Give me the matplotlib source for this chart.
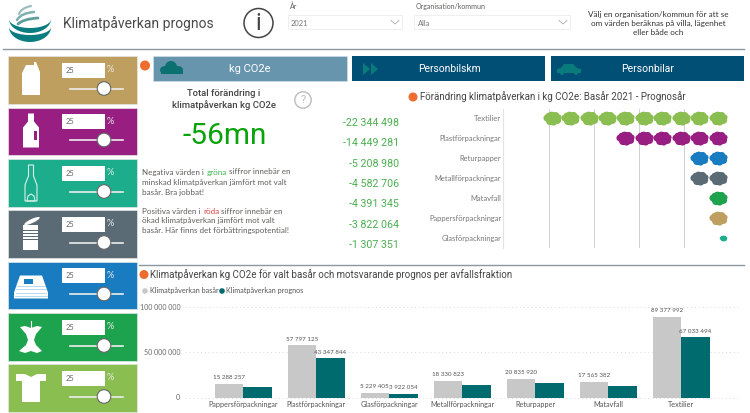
import numpy as np
import matplotlib
matplotlib.use("Agg")
import matplotlib.pyplot as plt
from matplotlib.patches import Rectangle, Circle, Polygon, Ellipse, PathPatch
from matplotlib.path import Path
from matplotlib.ticker import FuncFormatter

# bottom chart
fractions = ["Pappersförpackningar", "Plastförpackningar", "Glasförpackningar",
             "Metallförpackningar", "Returpapper", "Matavfall", "Textilier"]
base_values = [15288257, 57797125, 5229405, 18330823, 20835920, 17565382, 89377992]
forecast_values = [11466000, 43347844, 3922054, 13748000, 15627000, 13174000, 67033494]
forecast_labels = [None, "43 347 844", "3 922 054", None, None, None, "67 033 494"]
base_name = "Klimatpåverkan basår"
forecast_name = "Klimatpåverkan prognos"

# cloud chart
cloud_fractions = ["Textilier", "Plastförpackningar", "Returpapper", "Metallförpackningar",
                   "Matavfall", "Pappersförpackningar", "Glasförpackningar"]
cloud_counts = [10, 6, 2, 2, 1, 1, 1]
cloud_colors = ["#8BBE50", "#981E82", "#1A7CC0", "#5B6B75", "#1DA34E", "#BF9F5F", "#1CAE8C"]
change_labels = ["-22 344 498", "-14 449 281", "-5 208 980", "-4 582 706",
                 "-4 391 345", "-3 822 064", "-1 307 351"]

# sliders on the left
tile_colors = ["#BF9F5F", "#981E82", "#1CAE8C", "#5B6B75", "#1A7CC0", "#1DA34E", "#8BBE50"]
tile_tops = [56, 107.5, 159, 210, 261.5, 313, 364]
tile_icons = ["carton", "bottle", "wine", "can", "paper", "apple", "shirt"]

W, H = 750, 413
DARK = "#024F75"
TEAL = "#006B6E"
ORANGE = "#EE6C2E"
GREY = "#605E5C"
DIN = "Roboto"
BODY = "Lato"

fig = plt.figure(figsize=(W / 100, H / 100), dpi=100, facecolor="white")
ui = fig.add_axes([0, 0, 1, 1], zorder=0)
ui.set_xlim(0, W)
ui.set_ylim(H, 0)
ui.axis("off")


def px_axes(left, top, right, bottom):
    # axes placed by pixel box, y counted from the top
    ax = fig.add_axes([left / W, 1 - bottom / H, (right - left) / W, (bottom - top) / H], zorder=1)
    ax.patch.set_alpha(0)
    return ax


def box(x0, y0, x1, y1, color, ec="none", lw=0, z=1):
    ui.add_patch(Rectangle((x0, y0), x1 - x0, y1 - y0, fc=color, ec=ec, lw=lw, zorder=z))


def dot(x, y, r, color, ec="none", lw=0, z=3):
    ui.add_patch(Ellipse((x, y), 2 * r, 2 * r, fc=color, ec=ec, lw=lw, zorder=z))


def poly(points, x, y, s=1.0, color="white", fill=True, lw=0.8, z=3):
    pts = [(x + a * s, y + b * s) for a, b in points]
    ui.add_patch(Polygon(pts, closed=True, fc=color if fill else "none",
                         ec=color if not fill else "none", lw=lw, zorder=z))


def label(x, y, s, size, color=GREY, family=BODY, ha="left", weight="normal"):
    return ui.text(x, y, s, fontsize=size, color=color, family=family, ha=ha, va="center",
                   fontweight=weight, zorder=5)


def mixed_line(x, y, parts, size):
    # several colours on one line, each piece starts where the last one stopped
    rend = fig.canvas.get_renderer()
    for s, color in parts:
        t = label(x, y, s, size, color=color)
        x += t.get_window_extent(rend).width


def cloud_path():
    # a lumpy blob made of overlapping circles
    spots = [(-0.62, 0.05, 0.38), (-0.3, -0.32, 0.4), (0.12, -0.36, 0.42), (0.55, -0.2, 0.4),
             (0.68, 0.12, 0.32), (0.35, 0.32, 0.4), (-0.1, 0.36, 0.4), (-0.42, 0.3, 0.34),
             (0, 0, 0.55)]
    verts, codes = [], []
    for cx, cy, r in spots:
        c = Path.circle((cx, cy), r)
        verts.extend(c.vertices)
        codes.extend(c.codes)
    return Path(verts, codes)


CLOUD = cloud_path()


def draw_icon(kind, x, y):
    if kind == "carton":
        poly([(-9, -7), (-5, -15), (3, -15), (3, -18), (-4, -18), (5, -18), (9, -8), (9, 15), (-9, 15)], x, y)
    elif kind == "bottle":
        poly([(-3, -18), (3, -18), (3, -10), (8, -4), (8, 16), (-8, 16), (-8, -4), (-3, -10)], x, y)
        box(x + 3, y - 1, x + 5.5, y + 8, tile_colors[1], z=4)
    elif kind == "wine":
        poly([(-2.5, -18), (2.5, -18), (2.5, -7), (6, 2), (6, 18), (-6, 18), (-6, 2), (-2.5, -7)], x, y,
             color="#D8F2EA", fill=False)
        poly([(-4, 18), (-3, 13), (0, 11), (3, 13), (4, 18)], x, y, color="#D8F2EA", fill=False)
    elif kind == "can":
        for a, b in [(-9, -4), (-3, -1), (0, 2), (3, 5), (6, 16)]:
            box(x - 8, y + a, x + 7, y + b, "white", z=3)
        ui.add_patch(Ellipse((x + 1, y - 13), 17, 4, angle=-25, fc="white", ec="none", zorder=3))
    elif kind == "paper":
        poly([(-11, -10), (11, -10), (17, 7), (17, 13), (-17, 13), (-17, 7)], x, y)
        box(x - 7, y - 7, x + 2, y - 2, "#1A7CC0", z=4)
        for k in [0, 3.5, 7, 10]:
            ui.plot([x - 14 - k * 0.2, x + 14 + k * 0.2], [y + k, y + k], color="#9CC9E8", lw=0.5, zorder=4)
    elif kind == "apple":
        poly([(-11, -10), (-6, -11), (0, -9), (6, -11), (11, -10), (5, -3), (3, 3), (5, 8), (11, 14), (6, 16),
              (0, 14), (-6, 16), (-12, 14), (-5, 8), (-3, 3), (-5, -3)], x, y)
        ui.plot([x, x], [y - 16, y - 9], color="white", lw=0.8, zorder=3)
    elif kind == "shirt":
        poly([(-15, -14), (-6, -14), (0, -11), (6, -14), (15, -14), (15, -7), (9, -7), (9, 14), (-9, 14),
              (-9, -7), (-15, -7)], x, y)


# header
def crescent(cx, cy, rx, ry, thick, a0, a1, color):
    t = np.radians(np.linspace(a0, a1, 40))
    outer = np.c_[cx + rx * np.cos(t), cy + ry * np.sin(t)]
    inner = np.c_[cx + rx * np.cos(t[::-1]), cy + (ry - thick) * np.sin(t[::-1])]
    ui.add_patch(Polygon(np.r_[outer, inner], closed=True, fc=color, ec="none", zorder=3))


def swoosh(p0, p1, p2, lw, color):
    ui.add_patch(PathPatch(Path([p0, p1, p2], [Path.MOVETO, Path.CURVE3, Path.CURVE3]),
                           fc="none", ec=color, lw=lw, capstyle="round", zorder=3))


crescent(30, 19, 21, 14, 5, 0, 180, "#0B7C80")
crescent(30, 27, 21, 15, 7, 0, 180, "#0B7C80")
swoosh((19, 14), (21, 8), (31, 6), 1.6, "#9DBFC0")
swoosh((17, 20), (21, 13), (34, 12), 1.8, "#7FAFB0")
swoosh((18, 24), (23, 19), (38, 18), 2.0, "#5E9C9E")

label(63, 24, "Klimatpåverkan prognos", 10, color="#4A4A4A", family=DIN)
ui.add_patch(Circle((258.5, 23), 14.5, fc="none", ec="#444444", lw=1.1, zorder=3))
label(258.5, 23.5, "i", 17, color="#444444", family=DIN, ha="center")

label(289.5, 6.5, "År", 5.0)
box(288, 14.5, 402, 29, "white", ec="#EDEDED", lw=0.6)
label(291, 24, "2021", 5.4, color="#777777")
ui.plot([391, 395, 399], [20.5, 24, 20.5], color="#AAAAAA", lw=0.6, zorder=3)
label(416, 6.5, "Organisation/kommun", 5.0)
box(414, 14.5, 570, 29, "white", ec="#EDEDED", lw=0.6)
label(418, 23, "Alla", 5.4, color="#777777")
ui.plot([559, 563, 567], [20.5, 24, 20.5], color="#AAAAAA", lw=0.6, zorder=3)
for yy, line in zip([14, 23.5, 32.5], ["Välj en organisation/kommun för att se",
                                       "om värden beräknas på villa, lägenhet",
                                       "eller både och"]):
    label(658.5, yy, line, 5.9, color="#333333", ha="center")
ui.plot([3, 744], [48.5, 48.5], color="#8A97A3", lw=1, zorder=2)

# left column
for top, color, icon in zip(tile_tops, tile_colors, tile_icons):
    box(7.5, top, 137, top + 47.5, color, ec="#E6E6E6", lw=0.5)
    draw_icon(icon, 31, top + 24)
    box(62, top + 6.5, 105, top + 21.5, "white", z=3)
    label(66, top + 14.5, "25", 5.4, color="#666666")
    label(107, top + 13.5, "%", 6.6, color="#E8E8E8")
    ui.plot([70, 123], [top + 32.5, top + 32.5], color="#EDEDED", lw=1.2, zorder=3)
    dot(104, top + 32.5, 6.8, "white", ec="#666666", lw=0.8, z=4)

# buttons
box(153, 56, 346.5, 81, "#6795AE", ec="#D8E2E8", lw=0.4)
box(352, 56, 545, 81, DARK)
box(551, 56, 744, 81, DARK)
label(249.5, 69, "kg CO2e", 8, color="white", family=DIN, ha="center")
label(449, 69, "Personbilskm", 7.4, color="white", family=DIN, ha="center")
label(647.5, 69, "Personbilar", 7.5, color="white", family=DIN, ha="center")
dot(145, 65.5, 5, ORANGE)
for cx, cy, rx, ry in [(165, 70, 5, 4), (171, 67, 6, 6), (178, 70, 5, 4)]:
    ui.add_patch(Ellipse((cx, cy), 2 * rx, 2 * ry, fc="#0A7070", ec="none", zorder=3))
box(161, 70, 183, 74, "#0A7070", z=3)
poly([(0, -6), (7, 0), (0, 6)], 363, 69, color="#0A7B7B")
poly([(0, -6), (7, 0), (0, 6)], 371, 69, color="#0A7B7B")
poly([(-12, 4), (-12, 0), (-8, -1), (-5, -5), (4, -5), (8, -1), (12, 0), (12, 4)], 569, 69, color="#0A7B7B")
dot(562, 73, 2, "#0A7B7B")
dot(576, 73, 2, "#0A7B7B")

# total
label(224, 94, "Total förändring i", 6.8, color="#444444", family=DIN, ha="center", weight="medium")
label(224, 105, "klimatpåverkan kg CO2e", 6.8, color="#444444", family=DIN, ha="center", weight="medium")
ui.add_patch(Circle((303, 100), 8.2, fc="none", ec="#BBBBBB", lw=1, zorder=3))
label(303, 100, "?", 8, color="#BBBBBB", family=DIN, ha="center")
label(224.5, 136, "-56mn", 21.5, color="#0BA30B", family=DIN, ha="center")

GREEN_TXT = "#3DB54A"
RED_TXT = "#E0403C"
mixed_line(142.5, 172, [("Negativa värden i ", GREY), ("gröna", GREEN_TXT), (" siffror innebär en", GREY)], 5.8)
label(142.5, 182, "minskad klimatpåverkan jämfört mot valt", 5.8)
label(142.5, 192, "basår. Bra jobbat!", 5.8)
mixed_line(142.5, 211.5, [("Positiva värden i ", GREY), ("röda", RED_TXT), (" siffror innebär en", GREY)], 5.8)
label(142.5, 221, "ökad klimatpåverkan jämfört mot valt", 5.8)
label(142.5, 231, "basår. Här finns det förbättringspotential!", 5.8)

# change figures next to the cloud chart
row_y = 123
for s in change_labels:
    label(399, row_y, s, 7.7, color="#4CAF50", family=DIN, ha="right")
    row_y += 20.3

# cloud chart
dot(413, 97, 4.5, ORANGE)
label(419.5, 97, "Förändring klimatpåverkan i kg CO2e: Basår 2021 - Prognosår", 7.0,
      color="#444444", family=DIN)
ax_c = px_axes(503.3, 109, 729.3, 248)
for row, (count, color) in enumerate(zip(cloud_counts, cloud_colors)):
    small = cloud_fractions[row] == "Glasförpackningar"
    xs = [-(i * 2.045e6 + 1.26e6) for i in range(count)]
    if small:
        ax_c.scatter([-0.72e6], [row], marker=CLOUD, s=30, color=color, linewidths=0, zorder=3)
    else:
        ax_c.scatter(xs, [row] * count, marker=CLOUD, s=170, color=color, linewidths=0, zorder=3)
ax_c.set_xlim(-25e6, 0)
ax_c.set_ylim(6.48, -0.465)
ax_c.set_xticks([-20e6, -15e6, -10e6, -5e6, 0])
ax_c.set_xticklabels([])
ax_c.tick_params(axis="x", length=0)
ax_c.set_yticks(range(len(cloud_fractions)))
ax_c.set_yticklabels(cloud_fractions, fontsize=5.4, color="#777777", family=BODY)
ax_c.tick_params(axis="y", length=0, pad=1.5)
ax_c.grid(axis="x", color="#D0D0D0", lw=0.7)
ax_c.set_axisbelow(True)
for side in ["top", "right", "bottom"]:
    ax_c.spines[side].set_visible(False)
ax_c.spines["left"].set_color("#E3E3E3")
ax_c.spines["left"].set_linewidth(0.8)

# bar chart
ui.plot([139, 744], [264.5, 264.5], color="#8A97A3", lw=1, zorder=2)
dot(144, 274.5, 4.5, ORANGE)
label(150.5, 275, "Klimatpåverkan kg CO2e för valt basår och motsvarande prognos per avfallsfraktion", 7.0,
      color="#444444", family=DIN)
dot(145, 291, 2.8, "#C8C8C8")
label(150, 291, base_name, 5.2, color="#555555")
dot(222, 291, 2.8, TEAL)
label(226, 291, forecast_name, 5.2, color="#555555")

ax = px_axes(185, 307.3, 738, 397.5)
x = np.arange(len(fractions))
bar_w = 0.39
ax.bar(x - bar_w / 2, base_values, bar_w, color="#C8C8C8", zorder=3)
ax.bar(x + bar_w / 2, forecast_values, bar_w, color=TEAL, zorder=3)
for i, v in enumerate(base_values):
    ax.annotate(f"{v:,}".replace(",", " "), (i - bar_w / 2, v), xytext=(0, 2.5), textcoords="offset points",
                ha="center", va="bottom", fontsize=4.5, color="#555555", family=BODY)
for i, s in enumerate(forecast_labels):
    if s:
        ax.annotate(s, (i + bar_w / 2, forecast_values[i]), xytext=(0, 2.5), textcoords="offset points",
                    ha="center", va="bottom", fontsize=4.5, color="#555555", family=BODY)
ax.set_xlim(-0.795, 6.78)
ax.set_ylim(0, 100e6)
ax.set_xticks(x)
ax.set_xticklabels(fractions, fontsize=5.2, color="#555555", family=BODY)
ax.set_yticks([0, 50e6, 100e6])
ax.yaxis.set_major_formatter(FuncFormatter(lambda v, _: f"{int(v):,}".replace(",", " ")))
for t in ax.get_yticklabels():
    t.set_fontsize(5.0)
    t.set_color("#666666")
    t.set_family(BODY)
ax.tick_params(length=0)
ax.tick_params(axis="y", pad=3.5)
ax.tick_params(axis="x", pad=2.5)
ax.grid(axis="y", color="#D8D8D8", lw=0.7, linestyle=(0, (1, 3)), clip_on=False)
ax.set_axisbelow(True)
for side in ax.spines:
    ax.spines[side].set_visible(False)

fig.savefig("out.png", dpi=100)
